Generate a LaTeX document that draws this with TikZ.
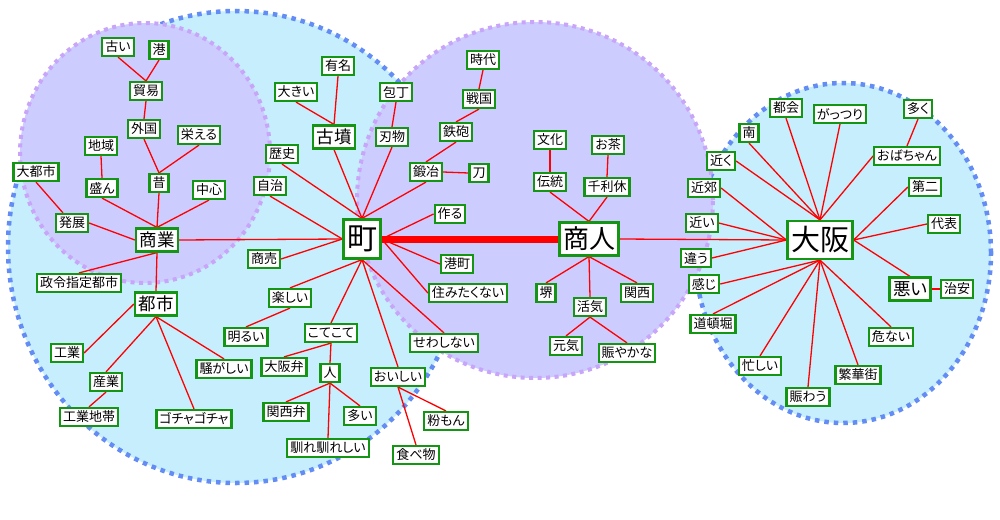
\documentclass[tikz,border=0pt]{standalone}
\usepackage{fontspec}
\newfontfamily\jp[RawFeature=+palt]{Noto Sans CJK JP}
\definecolor{ngreen}{RGB}{20,150,20}
\definecolor{cyanfill}{RGB}{198,238,252}
\definecolor{purplefill}{RGB}{204,204,255}
\definecolor{bluedot}{RGB}{100,140,245}
\definecolor{purpledot}{RGB}{200,165,248}
\definecolor{edgered}{RGB}{255,0,0}
\pgfdeclarelayer{bglayer}
\pgfdeclarelayer{edgelayer}
\pgfsetlayers{bglayer,edgelayer,main}
\tikzset{
  nd/.style={draw=ngreen, line width=2.2pt, fill=white, inner xsep=3pt, inner ysep=1pt,
    minimum height=18pt, text=black, font=\jp\fontsize{13}{13}\selectfont},
  md/.style={nd, minimum height=23pt, inner xsep=3.5pt, font=\jp\fontsize{17.5}{17.5}\selectfont},
  lg/.style={nd, inner xsep=3.5pt},
  ed/.style={draw=edgered, line width=1.3pt},
  bluering/.style={draw=bluedot, line width=4.5pt, dash pattern=on 4.5pt off 5pt},
  purplering/.style={draw=purpledot, line width=4pt, dash pattern=on 4pt off 4.5pt},
}
\begin{document}
\begin{tikzpicture}[x=1pt,y=-1pt]
\begin{pgfonlayer}{bglayer}
\useasboundingbox[fill=white] (0,0) rectangle (1000,519);
\fill[cyanfill] (236,247) ellipse [x radius=228pt, y radius=236pt];
\draw[bluering] (236,247) ellipse [x radius=228pt, y radius=236pt];
\fill[cyanfill] (843,253) ellipse [x radius=148pt, y radius=170pt];
\draw[bluering] (843,253) ellipse [x radius=148pt, y radius=170pt];
\fill[purplefill] (145,153) ellipse [x radius=125pt, y radius=130pt];
\draw[purplering] (145,153) ellipse [x radius=125pt, y radius=130pt];
\fill[purplefill] (535,200) ellipse [x radius=178pt, y radius=178pt];
\draw[purplering] (535,200) ellipse [x radius=178pt, y radius=178pt];
\end{pgfonlayer}

% left cluster
\node[nd] (furui) at (118,47) {古い};
\node[nd] (minato) at (159,50) {港};
\node[nd] (boeki) at (146,91) {貿易};
\node[nd] (gaikoku) at (144,129) {外国};
\node[nd] (sakaeru) at (199,135) {栄える};
\node[nd] (chiiki) at (101,146) {地域};
\node[nd] (daitoshi) at (36,172) {大都市};
\node[nd] (sakan) at (102,188) {盛ん};
\node[nd] (mukashi) at (159,183) {昔};
\node[nd] (chushin) at (209,190) {中心};
\node[nd] (jichi) at (270,186) {自治};
\node[nd] (rekishi) at (282,154) {歴史};
\node[nd] (hatten) at (72,223) {発展};
\node[md] (shogyo) at (157,240) {商業};
\node[nd] (seirei) at (79,283) {政令指定都市};
\node[md] (toshi) at (156,304) {都市};
\node[nd] (shobai) at (264,259) {商売};
\node[nd] (tanoshii) at (290,298) {楽しい};
\node[nd] (akarui) at (246,337) {明るい};
\node[nd] (sawagashii) at (224,369) {騒がしい};
\node[nd] (kogyo) at (67,353) {工業};
\node[nd] (sangyo) at (106,382) {産業};
\node[nd] (kogyochitai) at (89,417) {工業地帯};
\node[nd] (gocha) at (194,419) {ゴチャゴチャ};
% middle
\node[nd] (yumei) at (338,66) {有名};
\node[nd] (ookii) at (296,92) {大きい};
\node[md] (kofun) at (334,137) {古墳};
\node[nd] (hocho) at (396,92) {包丁};
\node[nd] (hamono) at (392,137) {刃物};
\node[nd] (jidai) at (483,60) {時代};
\node[nd] (sengoku) at (479,99) {戦国};
\node[nd] (teppo) at (456,132) {鉄砲};
\node[nd] (kaji) at (426,172) {鍛冶};
\node[nd] (katana) at (479,173) {刀};
\node[nd] (tsukuru) at (450,214) {作る};
\node[lg, minimum height=39pt, font=\jp\fontsize{30}{30}\selectfont] (machi) at (362,239) {町};
\node[nd] (minatomachi) at (457,264) {港町};
\node[nd] (suminaku) at (468,293) {住みたくない};
\node[nd] (sewashinai) at (444,343) {せわしない};
\node[nd] (koteko) at (331,333) {こてこて};
\node[nd] (osakaben) at (284,367) {大阪弁};
\node[nd] (hito) at (330,373) {人};
\node[nd] (oishii) at (398,377) {おいしい};
\node[nd] (kansaiben) at (286,412) {関西弁};
\node[nd] (ooi) at (360,416) {多い};
\node[nd] (narenare) at (328,448) {馴れ馴れしい};
\node[nd] (konamon) at (446,421) {粉もん};
\node[nd] (tabemono) at (416,455) {食べ物};
% middle right
\node[nd] (bunka) at (550,140) {文化};
\node[nd] (ocha) at (608,145) {お茶};
\node[nd] (dento) at (550,182) {伝統};
\node[nd] (rikyu) at (607,187) {千利休};
\node[lg, minimum height=33pt, font=\jp\fontsize{26}{26}\selectfont] (shonin) at (589,239) {商人};
\node[nd] (sakai) at (546,293) {堺};
\node[nd] (kakki) at (590,307) {活気};
\node[nd] (kansai) at (637,293) {関西};
\node[nd] (genki) at (566,346) {元気};
\node[nd] (nigiyakana) at (627,353) {賑やかな};
% right
\node[nd] (tokai) at (786,108) {都会};
\node[nd] (gattsuri) at (840,114) {がっつり};
\node[nd] (ooku) at (918,109) {多く};
\node[nd] (minami) at (749,133) {南};
\node[nd] (obachan) at (907,156) {おばちゃん};
\node[nd] (chikaku) at (721,161) {近く};
\node[nd] (kinko) at (704,188) {近郊};
\node[nd] (daini) at (925,187) {第二};
\node[nd] (chikai) at (702,223) {近い};
\node[nd] (daihyo) at (944,224) {代表};
\node[lg, minimum height=38pt, font=\jp\fontsize{29}{29}\selectfont] (osaka) at (820,240) {大阪};
\node[nd] (chigau) at (696,258) {違う};
\node[nd] (kanji) at (704,284) {感じ};
\node[md] (warui) at (910,289) {悪い};
\node[nd] (chian) at (957,289) {治安};
\node[nd] (dotonbori) at (713,324) {道頓堀};
\node[nd] (abunai) at (891,337) {危ない};
\node[nd] (isogashii) at (760,366) {忙しい};
\node[nd] (hankagai) at (858,375) {繁華街};
\node[nd] (nigiwau) at (808,397) {賑わう};

% edges
\begin{pgfonlayer}{edgelayer}
\begin{scope}[ed]
\draw (furui.south) -- (boeki.north);
\draw (minato.south) -- (boeki.north);
\draw (boeki.south) -- (gaikoku.north);
\draw (gaikoku.south) -- (mukashi.north);
\draw (sakaeru.south) -- (mukashi.north);
\draw (chiiki.south) -- (sakan.north);
\draw (daitoshi.south) -- ([xshift=-9pt]hatten.north);
\draw (hatten.east) -- (shogyo.west);
\draw (sakan.south) -- (shogyo.north);
\draw (mukashi.south) -- (shogyo.north);
\draw (chushin.south) -- (shogyo.north);
\draw (shogyo.east) -- (machi.west);
\draw (shogyo.south) -- (seirei.north);
\draw (shogyo.south) -- (toshi.north);
\draw (toshi.west) -- (kogyo.east);
\draw (toshi.south) -- (sangyo.north);
\draw (sangyo.south) -- (kogyochitai.north);
\draw (toshi.south) -- (gocha.north);
\draw (toshi.south) -- (sawagashii.north);
\draw (ookii.south) -- (kofun.north);
\draw (yumei.south) -- (kofun.north);
\draw (kofun.south) -- (machi.north);
\draw (hocho.south) -- (hamono.north);
\draw (hamono.south) -- (machi.north);
\draw (jidai.south) -- (sengoku.north);
\draw (sengoku.south) -- (teppo.north);
\draw (teppo.south) -- (kaji.north);
\draw (kaji.south) -- (machi.north);
\draw (kaji.east) -- (katana.west);
\draw (rekishi.south) -- (machi.north);
\draw (jichi.south) -- (machi.west);
\draw (tsukuru.west) -- (machi.east);
\draw (shobai.east) -- (machi.west);
\draw (minatomachi.west) -- (machi.east);
\draw (suminaku.west) -- (machi.east);
\draw (machi.south) -- (sewashinai.north);
\draw (machi.south) -- (tanoshii.north);
\draw (tanoshii.south) -- (akarui.north);
\draw (machi.south) -- (koteko.north);
\draw (koteko.south) -- (osakaben.north);
\draw (koteko.south) -- (hito.north);
\draw (hito.south) -- (kansaiben.north);
\draw (hito.south) -- (ooi.north);
\draw (hito.south) -- (narenare.north);
\draw (machi.south) -- (oishii.north);
\draw (oishii.south) -- (konamon.north);
\draw (oishii.south) -- (tabemono.north);
\draw[line width=7pt] (machi.east) -- (shonin.west);
\draw (bunka.south) -- (dento.north);
\draw (dento.south) -- (shonin.north);
\draw (ocha.south) -- (rikyu.north);
\draw (rikyu.south) -- (shonin.north);
\draw (shonin.south) -- (sakai.north);
\draw (shonin.south) -- (kakki.north);
\draw (shonin.south) -- (kansai.north);
\draw (kakki.south) -- (genki.north);
\draw (kakki.south) -- (nigiyakana.north);
\draw (shonin.east) -- (osaka.west);
\draw (minami.south) -- (osaka.north);
\draw (tokai.south) -- (osaka.north);
\draw (gattsuri.south) -- (osaka.north);
\draw (chikaku.east) -- (osaka.north);
\draw (obachan.west) -- (osaka.north);
\draw (ooku.south) -- (obachan.north);
\draw (kinko.east) -- (osaka.west);
\draw (chikai.east) -- (osaka.west);
\draw (chigau.east) -- (osaka.west);
\draw (daini.west) -- (osaka.east);
\draw (daihyo.west) -- (osaka.east);
\draw (osaka.east) -- (warui.north);
\draw (warui.east) -- (chian.west);
\draw (kanji.east) -- (osaka.south);
\draw (dotonbori.north) -- (osaka.south);
\draw (isogashii.north) -- (osaka.south);
\draw (nigiwau.north) -- (osaka.south);
\draw (hankagai.north) -- (osaka.south);
\draw (abunai.north) -- (osaka.south);
\end{scope}
\end{pgfonlayer}
\end{tikzpicture}
\end{document}
